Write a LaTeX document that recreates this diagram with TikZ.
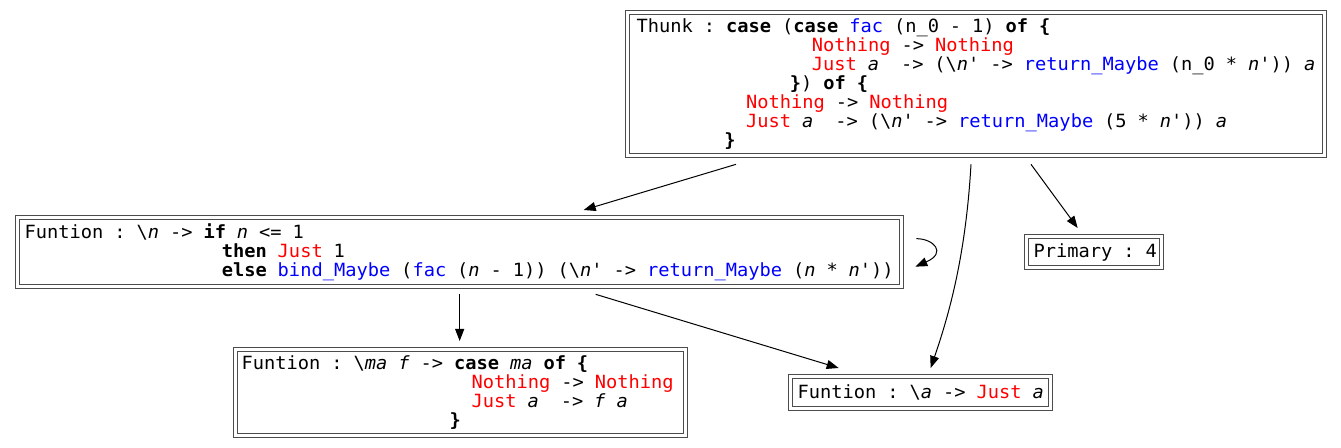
\documentclass[tikz,border=0pt]{standalone}
\usepackage{fontspec}
\setmonofont{DejaVu Sans Mono}[FakeStretch=1.028,ItalicFont={DejaVu Sans Mono Oblique},BoldFont={DejaVu Sans Mono Bold},BoldItalicFont={DejaVu Sans Mono Bold Oblique}]
\usetikzlibrary{arrows.meta,calc}
\newlength\chw
\setlength\chw{8.2125pt}
\newcommand\indt[1]{\hspace*{#1\chw}}
\newcommand\fixw[2]{\makebox[#1][l]{#2}}
\newcommand\kwR[1]{\textcolor{red}{#1}}
\newcommand\kwB[1]{\textcolor{blue}{#1}}
\newcommand\vI[1]{\textit{#1}}
\newcommand\bsl{\textbackslash}
\newcommand\codefont{\ttfamily\fontsize{13.64pt}{14.25pt}\selectfont\frenchspacing\spaceskip=\chw\relax\xspaceskip=\chw\relax}
\begin{document}
\begin{tikzpicture}[x=0.75pt,y=-0.75pt,
  box/.style={draw=black!70, line width=1pt, double=white, double distance=2pt,
    rectangle, anchor=north west, align=left, font=\codefont, inner ysep=0pt},
  edge/.style={draw=black, line width=0.75pt, -{Triangle[length=9pt,width=6.75pt]}}]
\fill[white] (0,0) rectangle (1341,448);
\useasboundingbox (0,0) rectangle (1341,448);

\node[box, inner xsep=6.75pt, minimum width=522pt, minimum height=107.25pt] (Thunk) at (627,12) {%
\fixw{508.5pt}{Thunk : \textbf{case} (\textbf{case} \kwB{fac} (n\_0 - 1) \textbf{of \{}}\\
\indt{16}\kwR{Nothing} -> \kwR{Nothing}\\
\indt{16}\kwR{Just} \vI{a}~ -> (\bsl\vI{n}' -> \kwB{return\_Maybe} (n\_0 * \vI{n}')) \vI{a}\\
\indt{14}\textbf{\}}) \textbf{of \{}\\
\indt{10}\kwR{Nothing} -> \kwR{Nothing}\\
\indt{10}\kwR{Just} \vI{a}~ -> (\bsl\vI{n}' -> \kwB{return\_Maybe} (5 * \vI{n}')) \vI{a}\\
\indt{8}\textbf{\}}};

\node[box, inner xsep=5.25pt, minimum width=663pt, minimum height=51.75pt] (F1) at (17,217) {%
\fixw{652.5pt}{Funtion : \bsl\vI{n} -> \textbf{if} \vI{n} <= 1}\\
\indt{18}\textbf{then} \kwR{Just} 1\\
\indt{18}\textbf{else} \kwB{bind\_Maybe} (\kwB{fac} (\vI{n} - 1)) (\bsl\vI{n}' -> \kwB{return\_Maybe} (\vI{n} * \vI{n}'))};

\node[box, inner xsep=5.25pt, minimum width=101.25pt, minimum height=23.25pt] (Primary) at (1026,236) {\fixw{90.75pt}{Primary : 4}};

\node[box, inner xsep=4.5pt, minimum width=337.5pt, minimum height=64.5pt] (Fma) at (235,349) {%
\fixw{328.5pt}{Funtion : \bsl\vI{ma} \vI{f} -> \textbf{case} \vI{ma} \textbf{of \{}}\\
\indt{21}\kwR{Nothing} -> \kwR{Nothing}\\
\indt{21}\kwR{Just} \vI{a}~ -> \vI{f} \vI{a}\\
\indt{19}\textbf{\}}};

\node[box, inner xsep=5.25pt, minimum width=195pt, minimum height=24pt] (Fa) at (790,376) {%
\fixw{184.5pt}{Funtion : \bsl\vI{a} -> \kwR{Just} \vI{a}}};

\draw[edge] ($(Thunk.south)+(-240,8)$) -- ($(F1.north)+(124,-7)$);
\draw[edge] ($(Thunk.south)+(-5,8)$) .. controls ($(Thunk.south)+(-10,95)$) and ($(Fa.north)+(30,-66)$) .. ($(Fa.north)+(10,-8)$);
\draw[edge] ($(Thunk.south)+(55,8)$) -- ($(Primary.north)+(-16.5,-8)$);
\draw[edge] ($(F1.south)+(0,7)$) -- ($(Fma.north)+(-1,-8)$);
\draw[edge] ($(F1.south)+(136,7)$) -- ($(Fa.north)+(-82,-8)$);
\draw[edge] ($(F1.east)+(14,-13.5)$) .. controls ($(F1.east)+(31,-13.5)$) and ($(F1.east)+(45,0.5)$) .. ($(F1.east)+(13,14.5)$);
\end{tikzpicture}
\end{document}
